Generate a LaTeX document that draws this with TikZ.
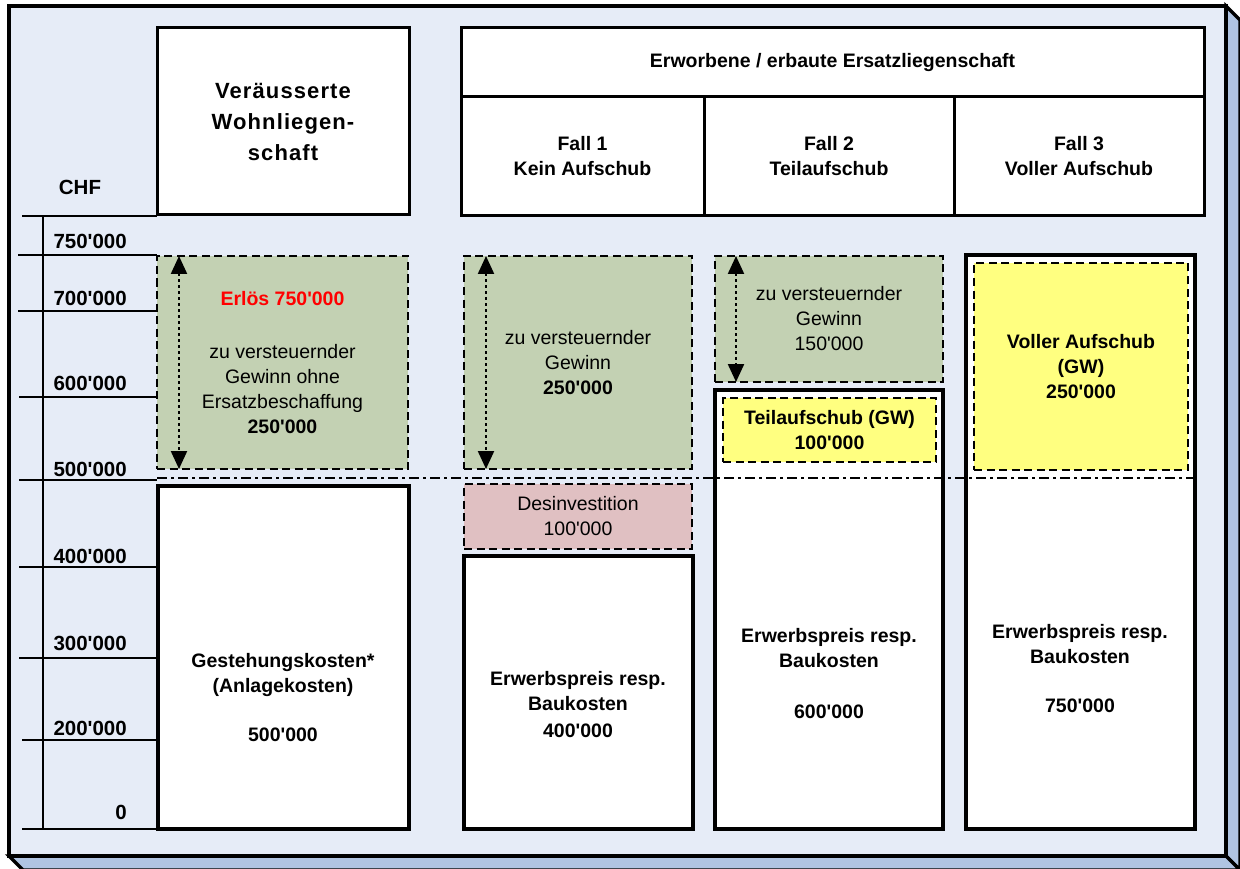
\documentclass[tikz,border=0pt]{standalone}
\usepackage{fontspec}
\newfontfamily\lib{Liberation Sans}
\newfontfamily\libsp{Liberation Sans}[LetterSpace=5]
\usetikzlibrary{arrows.meta,calc}
\definecolor{bgc}{HTML}{E6ECF7}
\definecolor{bevel}{HTML}{B0C4E2}
\definecolor{gainc}{HTML}{C3D1B3}
\definecolor{desc}{HTML}{E0C0C2}
\definecolor{defc}{HTML}{FFFF80}
\begin{document}
\begin{tikzpicture}[x=1pt,y=-1pt,
  frame/.style={draw=black,line width=3.5pt},
  axisline/.style={line width=2.7pt},
  txt/.style={font=\lib\fontsize{19.5}{25}\selectfont, align=center, inner sep=0pt, outer sep=0pt},
  btxt/.style={txt, font=\lib\bfseries\fontsize{19.5}{25}\selectfont},
  axl/.style={font=\lib\bfseries\fontsize{20.5}{24}\selectfont, inner sep=0pt},
  hdr/.style={btxt, draw=black, line width=3pt, fill=white, anchor=north west},
  thickbox/.style={draw=black, line width=4.5pt, fill=white, anchor=north west, inner sep=0pt, outer sep=0pt},
  dbox/.style={draw=black, line width=1.6pt, dash pattern=on 8pt off 4.5pt, anchor=north west},
  gain/.style={txt, dbox, fill=gainc},
  des/.style={txt, dbox, fill=desc},
  yel/.style={btxt, dbox, fill=defc},
  darrow/.style={line width=2.2pt, dash pattern=on 3pt off 3pt,
     {Triangle[width=16pt,length=18pt]}-{Triangle[width=16pt,length=18pt]}},
  dashdot/.style={line width=2.5pt, dash pattern=on 10pt off 4pt on 3pt off 4pt}]
\useasboundingbox (0,0) rectangle (1240,869);
% 3D frame
\filldraw[frame, fill=bevel] (1226,6) -- (1240,20) -- (1240,870) -- (1226,856) -- cycle;
\filldraw[frame, fill=bevel] (9,856) -- (1226,856) -- (1240,870) -- (23,870) -- cycle;
\filldraw[frame, fill=bgc] (9,6) rectangle (1226,856);
% axis
\draw[axisline] (22,216) -- (157,216);
\draw[axisline] (43,216) -- (43,829);
\foreach \yy/\xa in {255/18, 311/18, 397/19, 480/19, 567/19, 658/19, 740/22, 829/22}
  \draw[axisline] (\xa,\yy) -- (157,\yy);
\node[axl] (chf) at (80,187) {CHF};
\node[axl, anchor=east] (l750) at (127,241) {750'000};
\node[axl, anchor=east] (l700) at (127,298) {700'000};
\node[axl, anchor=east] (l600) at (127,383) {600'000};
\node[axl, anchor=east] (l500) at (127,469) {500'000};
\node[axl, anchor=east] (l400) at (127,556) {400'000};
\node[axl, anchor=east] (l300) at (127,643) {300'000};
\node[axl, anchor=east] (l200) at (127,728) {200'000};
\node[axl, anchor=east] (l0) at (127,812) {0};
% headers
\node[hdr, minimum width=252pt, minimum height=187pt, font=\libsp\bfseries\fontsize{22}{31}\selectfont] (h1) at (157,28) {Veräusserte\\Wohnliegen-\\schaft};
\node[hdr, minimum width=743pt, minimum height=69pt] (ht) at (461,28) {Erworbene / erbaute Ersatzliegenschaft};
\node[hdr, minimum width=243pt, minimum height=119pt] (hf1) at (461,97) {Fall 1\\Kein Aufschub};
\node[hdr, minimum width=250pt, minimum height=119pt] (hf2) at (704,97) {Fall 2\\Teilaufschub};
\node[hdr, minimum width=250pt, minimum height=119pt] (hf3) at (954,97) {Fall 3\\Voller Aufschub};
% column 1
\node[gain, minimum width=251pt, minimum height=213pt] (g1) at (157,256) {{\color{red}\bfseries Erlös 750'000}\\[28pt]zu versteuernder\\Gewinn ohne\\Ersatzbeschaffung\\\textbf{250'000}};
\node[thickbox, minimum width=251pt, minimum height=343pt] (w1) at (158,486) {};
\node[btxt] (t1) at (283,698) {Gestehungskosten*\\(Anlagekosten)\\[24pt]500'000};
% Fall 1
\node[gain, minimum width=228pt, minimum height=213pt] (g2) at (464,256) {zu versteuernder\\Gewinn\\\textbf{250'000}};
\node[des, minimum width=228pt, minimum height=65pt] (d2) at (464,484) {Desinvestition\\100'000};
\node[thickbox, minimum width=229pt, minimum height=273pt] (w2) at (464,556) {};
\node[btxt] (t2) at (578,705) {Erwerbspreis resp.\\Baukosten\\[2pt]400'000};
% Fall 2
\node[gain, minimum width=228pt, minimum height=126pt] (g3) at (715,256) {zu versteuernder\\Gewinn\\150'000};
\node[thickbox, minimum width=228pt, minimum height=439pt] (w3) at (715,390) {};
\node[yel, minimum width=213pt, minimum height=64pt] (y3) at (723,398) {Teilaufschub (GW)\\100'000};
\node[btxt] (t3) at (829,673.5) {Erwerbspreis resp.\\Baukosten\\[26pt]600'000};
% Fall 3
\node[thickbox, minimum width=229pt, minimum height=574pt] (w4) at (966,255) {};
\node[yel, minimum width=214pt, minimum height=207pt] (y4) at (974,263) {Voller Aufschub\\(GW)\\250'000};
\node[btxt] (t4) at (1080,669) {Erwerbspreis resp.\\Baukosten\\[24pt]750'000};
% dash-dot 500'000 line
\coordinate (ddl) at (157,478);
\coordinate (ddr) at (1195,478);
\draw[dashdot] (ddl) -- (ddr);
% double arrows
\draw[darrow] ([xshift=22pt]g1.north west) -- ([xshift=22pt]g1.south west);
\draw[darrow] ([xshift=22pt]g2.north west) -- ([xshift=22pt]g2.south west);
\draw[darrow] ([xshift=21pt]g3.north west) -- ([xshift=21pt]g3.south west);
\end{tikzpicture}
\end{document}
